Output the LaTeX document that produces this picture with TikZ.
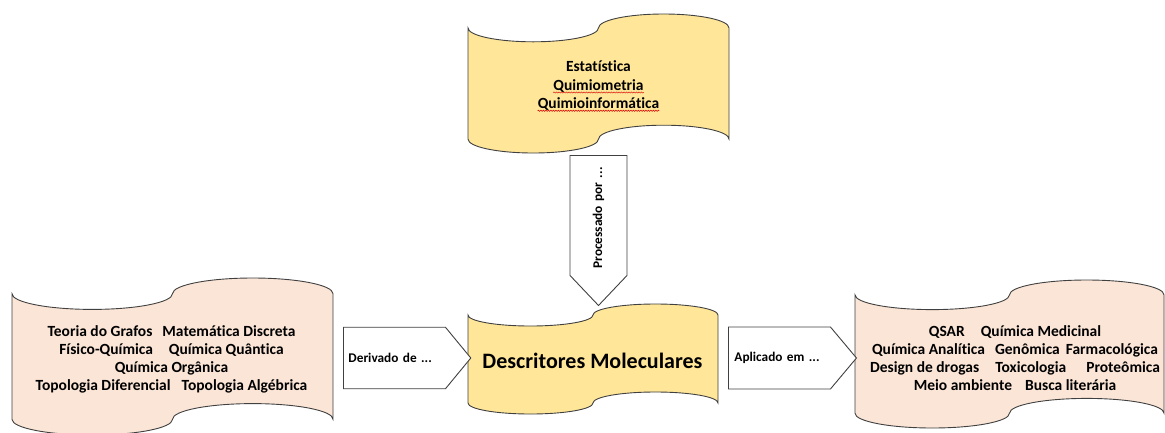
\documentclass[tikz,border=0pt]{standalone}
\usepackage{fontspec}
\setmainfont{Carlito}[Ligatures={NoCommon,NoRequired,NoContextual}]
\usepackage{xcolor}
\usetikzlibrary{positioning,shapes.symbols,decorations.pathmorphing}

\definecolor{tapeyellow}{HTML}{FFE699}
\definecolor{tapepeach}{HTML}{FBE5D6}
\definecolor{tapeline}{HTML}{404040}

% punched tape outline: style, left, top, width, height
\newcommand{\punchedtape}[5]{%
  \path[#1] (#2,{#3+#5/10})
    arc[start angle=180, end angle=0, x radius=#4/4, y radius=#5/10]
    arc[start angle=180, end angle=360, x radius=#4/4, y radius=#5/10]
    -- ({#2+#4},{#3+0.9*#5})
    arc[start angle=0, end angle=-180, x radius=#4/4, y radius=#5/10]
    arc[start angle=0, end angle=180, x radius=#4/4, y radius=#5/10]
    -- cycle;}

\begin{document}
\begin{tikzpicture}[x=1pt, y=-1pt,
    tape/.style={draw=tapeline, line width=0.9pt},
    tape text/.style={font=\bfseries\fontsize{15.5}{18}\selectfont, align=center, inner sep=0pt},
    block arrow/.style={signal, draw=tapeline, line width=0.9pt, fill=white,
      font=\bfseries\fontsize{13.3}{16}\selectfont, align=left, inner ysep=0pt},
    squiggle/.style={draw=red!85!black, line width=0.5pt, decorate,
      decoration={snake, amplitude=0.6pt, segment length=2.5pt}},
  ]
  \useasboundingbox (0,0) rectangle (1165,432);

  % the four tapes
  \punchedtape{tape, fill=tapeyellow}{468}{14}{261}{139}
  \punchedtape{tape, fill=tapeyellow}{468}{304}{250}{110}
  \punchedtape{tape, fill=tapepeach}{12}{278}{321}{157}
  \punchedtape{tape, fill=tapepeach}{855}{280}{309}{148}

  % processing methods
  \node[tape text, anchor=base] (estat) at (598.5,71.7) {Estatística};
  \node[tape text, anchor=base] (quimiom) at (598.5,90) {Quimiometria};
  \node[tape text, anchor=base] (quimioinf) at (598.5,108.3) {Quimioinformática};
  \draw[squiggle] ([yshift=-2.5pt]quimiom.base west) -- ([yshift=-2.5pt]quimiom.base east);
  \draw[squiggle] ([yshift=-2.5pt]quimioinf.base west) -- ([yshift=-2.5pt]quimioinf.base east);

  % descriptors
  \node[font=\bfseries\fontsize{22}{26}\selectfont, inner sep=0pt] (descr) at (592.5,361)
    {Descritores Moleculares};

  % origins
  \node[tape text] (origem) at (171.5,359.5) {%
    Teoria do Grafos\hspace{10pt}Matemática Discreta\\
    Físico-Química\hspace{16pt}Química Quântica\\
    Química Orgânica\\
    Topologia Diferencial\hspace{11pt}Topologia Algébrica};

  % applications
  \node[tape text] (aplicacao) at (1015,358.5) {%
    QSAR\hspace{16pt}Química Medicinal\\
    Química Analítica\hspace{10pt}Genômica\hspace{6pt}Farmacológica\\
    Design de drogas\hspace{16pt}Toxicologia\hspace{20pt}Proteômica\\
    Meio ambiente\hspace{13pt}Busca literária};

  % block arrows
  \node[block arrow, signal to=east, signal pointer angle=101, minimum height=61.5pt,
    inner xsep=5pt, text width=92pt, anchor=west] (derivado) at (343,358) {Derivado de ...};
  \node[block arrow, signal to=east, signal pointer angle=100, minimum height=62pt,
    inner xsep=6pt, text width=90pt, anchor=west] (aplicado) at (728,358) {Aplicado em ...};
  \node[block arrow, signal to=west, signal pointer angle=87, minimum height=57pt,
    inner xsep=7pt, text width=106pt, rotate=90, anchor=east] (processado) at (598.5,155)
    {Processado por ...};
\end{tikzpicture}
\end{document}
